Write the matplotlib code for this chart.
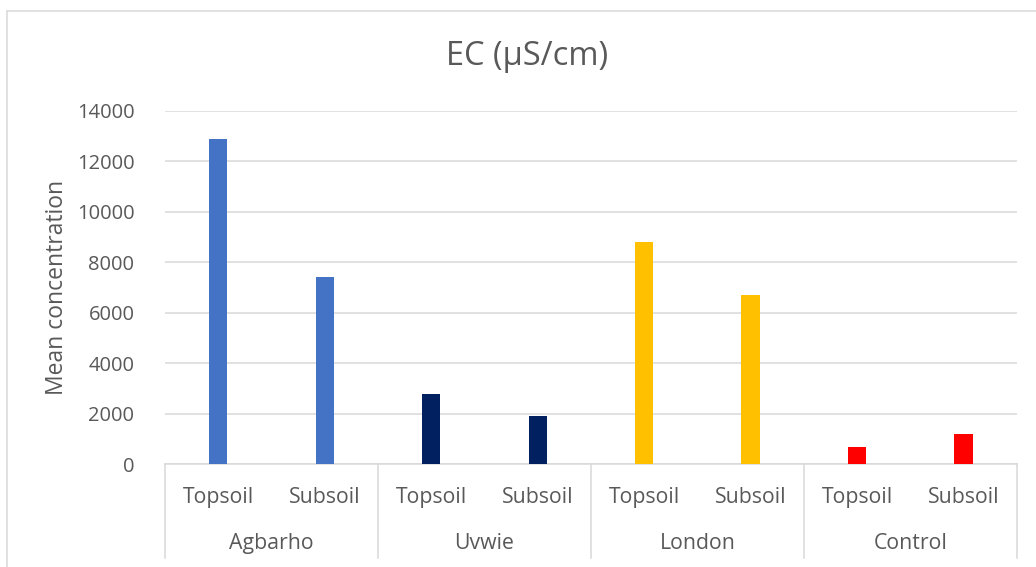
import numpy as np
import matplotlib.pyplot as plt
from matplotlib.lines import Line2D
from matplotlib.transforms import blended_transform_factory

plt.rcParams["font.family"] = ["Open Sans", "DejaVu Sans"]

# data
sites = ["Agbarho", "Uvwie", "London", "Control"]
layers = ["Topsoil", "Subsoil"]
ec_values = [12900, 7400, 2800, 1900, 8800, 6700, 700, 1200]
site_colors = ["#4472C4", "#002060", "#FFC000", "#FF0000"]
y_ticks = [0, 2000, 4000, 6000, 8000, 10000, 12000, 14000]

text_col = "#595959"
grid_col = "#D9D9D9"

fig = plt.figure(figsize=(10.36, 5.67), dpi=100)
ax = fig.add_axes([165 / 1036, 1 - 464.3 / 567, (1016.7 - 165) / 1036, (464.3 - 110.8) / 567])

x = np.arange(len(ec_values))
colors = [c for c in site_colors for _ in layers]
ax.bar(x, ec_values, width=0.17, color=colors, zorder=3)

ax.set_xlim(-0.5, len(ec_values) - 0.5)
ax.set_ylim(0, 14000)
ax.set_yticks(y_ticks)
ax.set_yticklabels([str(v) for v in y_ticks], fontsize=14.5, color=text_col)
ax.tick_params(axis="y", length=0, pad=22)
ax.set_xticks([])
ax.yaxis.grid(True, color=grid_col, linewidth=1.1, zorder=0)
for s in ["top", "right", "left"]:
    ax.spines[s].set_visible(False)
ax.spines["bottom"].set_color(grid_col)
ax.spines["bottom"].set_linewidth(1.1)

ax.set_ylabel("Mean concentration", fontsize=16.5, color=text_col)
ax.yaxis.set_label_coords(-0.113, 0.5)
fig.text(527 / 1036, 1 - 57 / 567, "EC (µS/cm)", fontsize=23.5, color=text_col,
         ha="center", va="center")

# two-level category axis
trans = blended_transform_factory(ax.transData, ax.transAxes)
for i in x:
    ax.text(i, -0.093, layers[i % 2], transform=trans, ha="center", va="center",
            fontsize=15.3, color=text_col)
for j, site in enumerate(sites):
    ax.text(2 * j + 0.5, -0.223, site, transform=trans, ha="center", va="center",
            fontsize=15.3, color=text_col)
for b in np.arange(len(sites) + 1) * 2 - 0.5:
    ax.plot([b, b], [0, -0.265], transform=trans, color=grid_col, linewidth=1.1,
            clip_on=False)

# chart area border (cropped on right and bottom)
fig.add_artist(Line2D([7 / 1036, 1], [1 - 11 / 567, 1 - 11 / 567], transform=fig.transFigure,
                      color=grid_col, linewidth=1.1))
fig.add_artist(Line2D([7 / 1036, 7 / 1036], [0, 1 - 11 / 567], transform=fig.transFigure,
                      color=grid_col, linewidth=1.1))

fig.savefig("out.png", dpi=100)
